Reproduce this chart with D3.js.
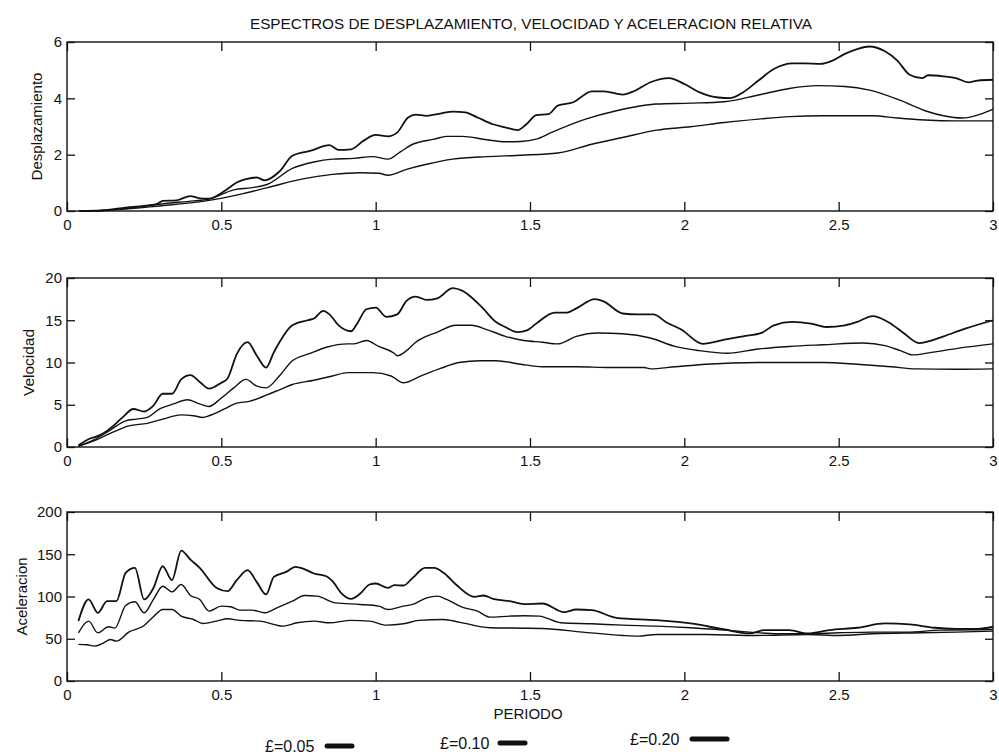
<!DOCTYPE html>
<html>
<head>
<meta charset="utf-8">
<script src="https://cdn.jsdelivr.net/npm/d3@7"></script>
<style>
  html, body { margin: 0; padding: 0; background: #fff; }
  svg { display: block; font-family: "Liberation Sans", Arial, sans-serif; }
</style>
</head>
<body>
<svg id="chart" width="999" height="756"></svg>
<script>
// Spectra data: [periodo, valor], one array per damping ratio

const titleText = 'ESPECTROS DE DESPLAZAMIENTO, VELOCIDAD Y ACELERACION RELATIVA';
const xLabelText = 'PERIODO';
const legendLabels = ['£=0.05', '£=0.10', '£=0.20'];

const xTickValues = [0, 0.5, 1, 1.5, 2, 2.5, 3];
const xTickLabels = ['0', '0.5', '1', '1.5', '2', '2.5', '3'];
const yTicksDesp = [0, 2, 4, 6];
const yTicksVel = [0, 5, 10, 15, 20];
const yTicksAcel = [0, 50, 100, 150, 200];

const desp005 = [[0.04,0],[0.11,0.02],[0.19,0.12],[0.29,0.24],[0.31,0.36],[0.355,0.38],[0.40,0.53],[0.43,0.45],[0.46,0.44],[0.51,0.71],[0.55,1.01],[0.58,1.13],[0.615,1.19],[0.64,1.09],[0.69,1.42],[0.73,1.96],[0.79,2.14],[0.85,2.34],[0.88,2.17],[0.92,2.19],[0.96,2.49],[1.0,2.70],[1.04,2.65],[1.07,2.79],[1.105,3.32],[1.13,3.42],[1.165,3.38],[1.21,3.46],[1.25,3.53],[1.29,3.50],[1.33,3.32],[1.38,3.08],[1.42,2.97],[1.46,2.87],[1.49,3.10],[1.52,3.40],[1.56,3.44],[1.59,3.74],[1.64,3.86],[1.70,4.25],[1.74,4.25],[1.80,4.13],[1.84,4.27],[1.89,4.57],[1.95,4.72],[2.0,4.51],[2.05,4.21],[2.11,4.03],[2.15,4.01],[2.19,4.21],[2.24,4.63],[2.29,5.04],[2.35,5.24],[2.39,5.24],[2.44,5.22],[2.48,5.34],[2.52,5.58],[2.56,5.75],[2.60,5.84],[2.65,5.67],[2.69,5.34],[2.73,4.84],[2.77,4.72],[2.79,4.82],[2.84,4.78],[2.88,4.72],[2.92,4.57],[2.95,4.63],[3.0,4.66]];
const desp010 = [[0.04,0],[0.12,0.02],[0.20,0.1],[0.30,0.24],[0.41,0.36],[0.46,0.42],[0.54,0.75],[0.60,0.83],[0.65,0.95],[0.73,1.51],[0.80,1.74],[0.86,1.84],[0.93,1.87],[0.99,1.93],[1.04,1.84],[1.08,2.10],[1.12,2.37],[1.19,2.55],[1.23,2.65],[1.28,2.65],[1.36,2.53],[1.42,2.46],[1.47,2.47],[1.52,2.55],[1.57,2.79],[1.68,3.26],[1.78,3.56],[1.91,3.80],[2.02,3.83],[2.13,3.88],[2.24,4.12],[2.34,4.35],[2.43,4.45],[2.52,4.42],[2.60,4.29],[2.69,3.97],[2.78,3.56],[2.84,3.38],[2.90,3.30],[2.96,3.44],[3.0,3.62]];
const desp020 = [[0.04,0],[0.12,0.02],[0.30,0.18],[0.45,0.36],[0.56,0.59],[0.65,0.83],[0.76,1.13],[0.86,1.30],[0.95,1.36],[1.01,1.34],[1.04,1.27],[1.10,1.48],[1.165,1.66],[1.25,1.84],[1.36,1.93],[1.47,1.98],[1.59,2.06],[1.70,2.37],[1.80,2.61],[1.91,2.87],[2.02,2.99],[2.13,3.14],[2.24,3.26],[2.34,3.35],[2.45,3.38],[2.56,3.38],[2.61,3.38],[2.69,3.30],[2.78,3.23],[2.88,3.20],[3.0,3.20]];

const vel005 = [[0.037,0.2],[0.075,1.0],[0.107,1.4],[0.14,2.2],[0.18,3.5],[0.215,4.5],[0.25,4.2],[0.28,4.9],[0.31,6.3],[0.34,6.3],[0.37,8.0],[0.40,8.5],[0.43,7.7],[0.46,6.9],[0.50,7.6],[0.52,8.1],[0.55,11.0],[0.585,12.4],[0.615,10.8],[0.645,9.4],[0.67,11.2],[0.73,14.4],[0.78,15.0],[0.80,15.2],[0.83,16.1],[0.85,15.7],[0.88,14.4],[0.92,13.7],[0.94,14.6],[0.97,16.3],[1.0,16.5],[1.035,15.4],[1.07,15.7],[1.10,17.3],[1.13,17.8],[1.165,17.4],[1.20,17.6],[1.25,18.8],[1.28,18.5],[1.34,16.7],[1.39,14.8],[1.42,14.2],[1.46,13.6],[1.49,13.8],[1.52,14.6],[1.58,15.9],[1.62,15.9],[1.65,16.4],[1.71,17.5],[1.74,17.2],[1.80,15.8],[1.85,15.7],[1.90,15.7],[1.94,14.8],[1.99,13.9],[2.06,12.2],[2.13,12.7],[2.19,13.1],[2.25,13.5],[2.29,14.4],[2.35,14.8],[2.41,14.6],[2.46,14.2],[2.52,14.4],[2.56,14.8],[2.61,15.5],[2.66,14.8],[2.71,13.5],[2.76,12.3],[2.79,12.5],[2.84,13.1],[2.91,14.0],[3.0,15.0]];
const vel010 = [[0.037,0.1],[0.085,0.8],[0.14,2.0],[0.19,3.1],[0.225,3.3],[0.26,3.5],[0.30,4.5],[0.345,5.1],[0.39,5.6],[0.43,5.1],[0.46,4.8],[0.50,5.8],[0.54,7.0],[0.58,8.0],[0.615,7.2],[0.645,7.0],[0.69,8.5],[0.73,10.2],[0.79,11.1],[0.84,11.8],[0.91,12.2],[0.93,12.2],[0.97,12.6],[1.01,11.9],[1.06,11.1],[1.07,10.8],[1.10,11.4],[1.13,12.4],[1.20,13.6],[1.26,14.4],[1.31,14.4],[1.36,13.9],[1.42,13.1],[1.48,12.6],[1.54,12.4],[1.59,12.2],[1.65,13.1],[1.72,13.5],[1.80,13.4],[1.89,12.9],[1.97,11.9],[2.05,11.4],[2.14,11.1],[2.24,11.6],[2.34,11.9],[2.45,12.1],[2.58,12.3],[2.65,12.0],[2.70,11.4],[2.74,10.9],[2.80,11.2],[2.89,11.7],[3.0,12.2]];
const vel020 = [[0.037,0.1],[0.085,0.7],[0.14,1.6],[0.20,2.5],[0.26,2.8],[0.31,3.3],[0.37,3.8],[0.41,3.7],[0.44,3.5],[0.46,3.7],[0.51,4.5],[0.55,5.2],[0.59,5.4],[0.65,6.2],[0.69,6.8],[0.73,7.4],[0.80,7.9],[0.86,8.4],[0.91,8.8],[0.99,8.8],[1.05,8.4],[1.09,7.6],[1.14,8.3],[1.21,9.3],[1.27,10.0],[1.34,10.2],[1.39,10.2],[1.47,9.8],[1.54,9.5],[1.65,9.5],[1.76,9.4],[1.87,9.4],[1.89,9.25],[1.97,9.5],[2.07,9.8],[2.24,10.0],[2.45,10.0],[2.56,9.8],[2.67,9.5],[2.75,9.25],[2.88,9.2],[3.0,9.25]];

const acel005 = [[0.037,70.9],[0.07,96.5],[0.10,80.7],[0.13,94.5],[0.16,94.5],[0.19,128],[0.22,133.9],[0.25,96.5],[0.28,110],[0.31,135.8],[0.34,119.3],[0.37,154.3],[0.40,143.7],[0.43,133.9],[0.485,110],[0.52,106.3],[0.55,119.3],[0.585,131.1],[0.615,117],[0.645,102.4],[0.67,123.2],[0.71,129.1],[0.74,135],[0.765,133.1],[0.80,127.2],[0.84,124],[0.86,118.1],[0.89,103.5],[0.92,97.2],[0.95,103.5],[0.98,114.2],[1.0,115.4],[1.04,110.2],[1.06,113.4],[1.09,113],[1.12,122],[1.16,133.9],[1.19,133.9],[1.22,128],[1.26,114.2],[1.32,99.6],[1.35,101.2],[1.38,97.2],[1.435,94.5],[1.48,91],[1.54,91.7],[1.61,81.5],[1.65,84.6],[1.70,83.9],[1.78,74.8],[1.91,72],[2.02,68.1],[2.13,61],[2.21,56.3],[2.26,60.2],[2.34,60.2],[2.40,56.3],[2.47,60.2],[2.56,63],[2.65,68.1],[2.73,66.9],[2.81,63],[2.88,61.8],[2.95,61.8],[3.0,64.2]];
const acel010 = [[0.037,57],[0.07,70.9],[0.10,57],[0.135,64.2],[0.155,62.6],[0.19,89.4],[0.22,93.7],[0.25,80.7],[0.28,96.5],[0.31,112.2],[0.34,105.5],[0.37,114.2],[0.40,101.2],[0.43,96.5],[0.46,82.7],[0.50,88.6],[0.53,87.8],[0.56,83.9],[0.60,83.9],[0.64,80.7],[0.68,86.6],[0.73,94.5],[0.77,101.2],[0.81,100.4],[0.87,92.5],[0.95,90.6],[1.01,88.6],[1.04,84.6],[1.09,88.6],[1.12,90.6],[1.165,98.4],[1.20,100.4],[1.23,96.5],[1.28,87.4],[1.33,82.7],[1.37,75.6],[1.435,76.8],[1.48,77.2],[1.53,76.8],[1.60,68.9],[1.70,67.7],[1.80,66.1],[1.91,65],[2.02,63],[2.13,60.2],[2.21,57.9],[2.30,55.9],[2.40,55.9],[2.50,57.1],[2.61,57.9],[2.72,57.9],[2.83,60.2],[3.0,61]];
const acel020 = [[0.037,43.3],[0.064,42.9],[0.09,41.3],[0.12,45.3],[0.14,49.2],[0.16,47.2],[0.20,57.9],[0.25,65.7],[0.28,76],[0.31,84.6],[0.34,84.6],[0.37,76.8],[0.41,72.8],[0.44,68.1],[0.485,70.9],[0.52,73.6],[0.56,71.7],[0.625,70.9],[0.70,65],[0.745,68.9],[0.80,70.9],[0.85,68.9],[0.92,71.7],[0.98,70.9],[1.035,66.1],[1.09,67.7],[1.14,71.7],[1.22,72.8],[1.27,69.7],[1.37,63],[1.48,62.5],[1.54,62.2],[1.67,57.9],[1.80,53.9],[1.85,53.1],[1.91,55.1],[2.07,55.1],[2.23,53.9],[2.40,55.1],[2.50,53.9],[2.61,55.9],[2.77,57.1],[2.88,57.9],[3.0,59]];

// Layout
const plotLeft = 67;
const plotRight = 993;
const INK = '#111';
const seriesWidths = [1.8, 1.4, 1.4];

const panels = [
    { label: 'Desplazamiento', labelX: 42, labelLen: 108, top: 42, bottom: 211, yTicks: yTicksDesp, series: [desp005, desp010, desp020] },
    { label: 'Velocidad', labelX: 34, labelLen: 67, top: 278, bottom: 447, yTicks: yTicksVel, series: [vel005, vel010, vel020] },
    { label: 'Aceleracion', labelX: 27, labelLen: 78, top: 512, bottom: 681, yTicks: yTicksAcel, series: [acel005, acel010, acel020] }
];

const svg = d3.select('#chart');
svg.append('rect').attr('width', 999).attr('height', 756).attr('fill', '#fff');

const x = d3.scaleLinear().domain([0, 3]).range([plotLeft, plotRight]);

/**
 * Draw one subplot: frame, inward ticks on all four sides, curves
 */
function drawPanel(p) {
    const y = d3.scaleLinear()
        .domain([0, d3.max(p.yTicks)])
        .range([p.bottom, p.top]);

    const g = svg.append('g');

    // bottom axis with labels
    const bottomAxis = g.append('g')
        .attr('transform', `translate(0,${p.bottom})`)
        .call(d3.axisBottom(x).tickValues(xTickValues)
            .tickFormat((d, i) => xTickLabels[i])
            .tickSize(-9).tickPadding(8));

    // top axis, ticks only
    const topAxis = g.append('g')
        .attr('transform', `translate(0,${p.top})`)
        .call(d3.axisTop(x).tickValues(xTickValues).tickFormat('').tickSize(-9));

    // left axis with labels
    const leftAxis = g.append('g')
        .attr('transform', `translate(${plotLeft},0)`)
        .call(d3.axisLeft(y).tickValues(p.yTicks)
            .tickFormat(d => String(d))
            .tickSize(-8).tickPadding(5));

    // right axis, ticks only
    const rightAxis = g.append('g')
        .attr('transform', `translate(${plotRight},0)`)
        .call(d3.axisRight(y).tickValues(p.yTicks).tickFormat('').tickSize(-8));

    [bottomAxis, topAxis, leftAxis, rightAxis].forEach(a => {
        a.select('.domain').remove();
        a.selectAll('line').attr('stroke', INK).attr('stroke-width', 1.3);
        a.selectAll('text')
            .attr('fill', INK)
            .style('font-family', '"Liberation Sans", Arial, sans-serif')
            .style('font-size', '15px');
    });

    // frame
    g.append('rect')
        .attr('x', plotLeft)
        .attr('y', p.top)
        .attr('width', plotRight - plotLeft)
        .attr('height', p.bottom - p.top)
        .attr('fill', 'none')
        .attr('stroke', INK)
        .attr('stroke-width', 1.4);

    const line = d3.line()
        .x(d => x(d[0]))
        .y(d => y(d[1]))
        .curve(d3.curveMonotoneX);

    p.series.forEach((s, i) => {
        g.append('path')
            .datum(s)
            .attr('d', line)
            .attr('fill', 'none')
            .attr('stroke', INK)
            .attr('stroke-width', seriesWidths[i])
            .attr('stroke-linejoin', 'round');
    });

    // y label
    const cy = (p.top + p.bottom) / 2;
    g.append('text')
        .attr('transform', `translate(${p.labelX},${cy}) rotate(-90)`)
        .attr('text-anchor', 'middle')
        .attr('textLength', p.labelLen)
        .attr('lengthAdjust', 'spacingAndGlyphs')
        .style('font-size', '15px')
        .attr('fill', INK)
        .text(p.label);
}

panels.forEach(drawPanel);

// Title
svg.append('text')
    .attr('x', 531)
    .attr('y', 29)
    .attr('text-anchor', 'middle')
    .attr('textLength', 562)
    .attr('lengthAdjust', 'spacingAndGlyphs')
    .style('font-size', '14px')
    .attr('fill', INK)
    .text(titleText);

// x label
svg.append('text')
    .attr('x', 528)
    .attr('y', 719)
    .attr('text-anchor', 'middle')
    .style('font-size', '15px')
    .attr('fill', INK)
    .text(xLabelText);

// Legend (staggered, as in the original)
const legendPos = [
    { tx: 265, ty: 752, lx1: 327, lx2: 352, ly: 746 },
    { tx: 440, ty: 749, lx1: 500, lx2: 525, ly: 743 },
    { tx: 630, ty: 745, lx1: 692, lx2: 727, ly: 739 }
];

legendLabels.forEach((lab, i) => {
    const pos = legendPos[i];
    svg.append('text')
        .attr('x', pos.tx)
        .attr('y', pos.ty)
        .style('font-size', '16px')
        .attr('fill', INK)
        .text(lab);
    svg.append('line')
        .attr('x1', pos.lx1)
        .attr('x2', pos.lx2)
        .attr('y1', pos.ly)
        .attr('y2', pos.ly)
        .attr('stroke', INK)
        .attr('stroke-width', 5)
        .attr('stroke-linecap', 'round');
});
</script>
</body>
</html>
